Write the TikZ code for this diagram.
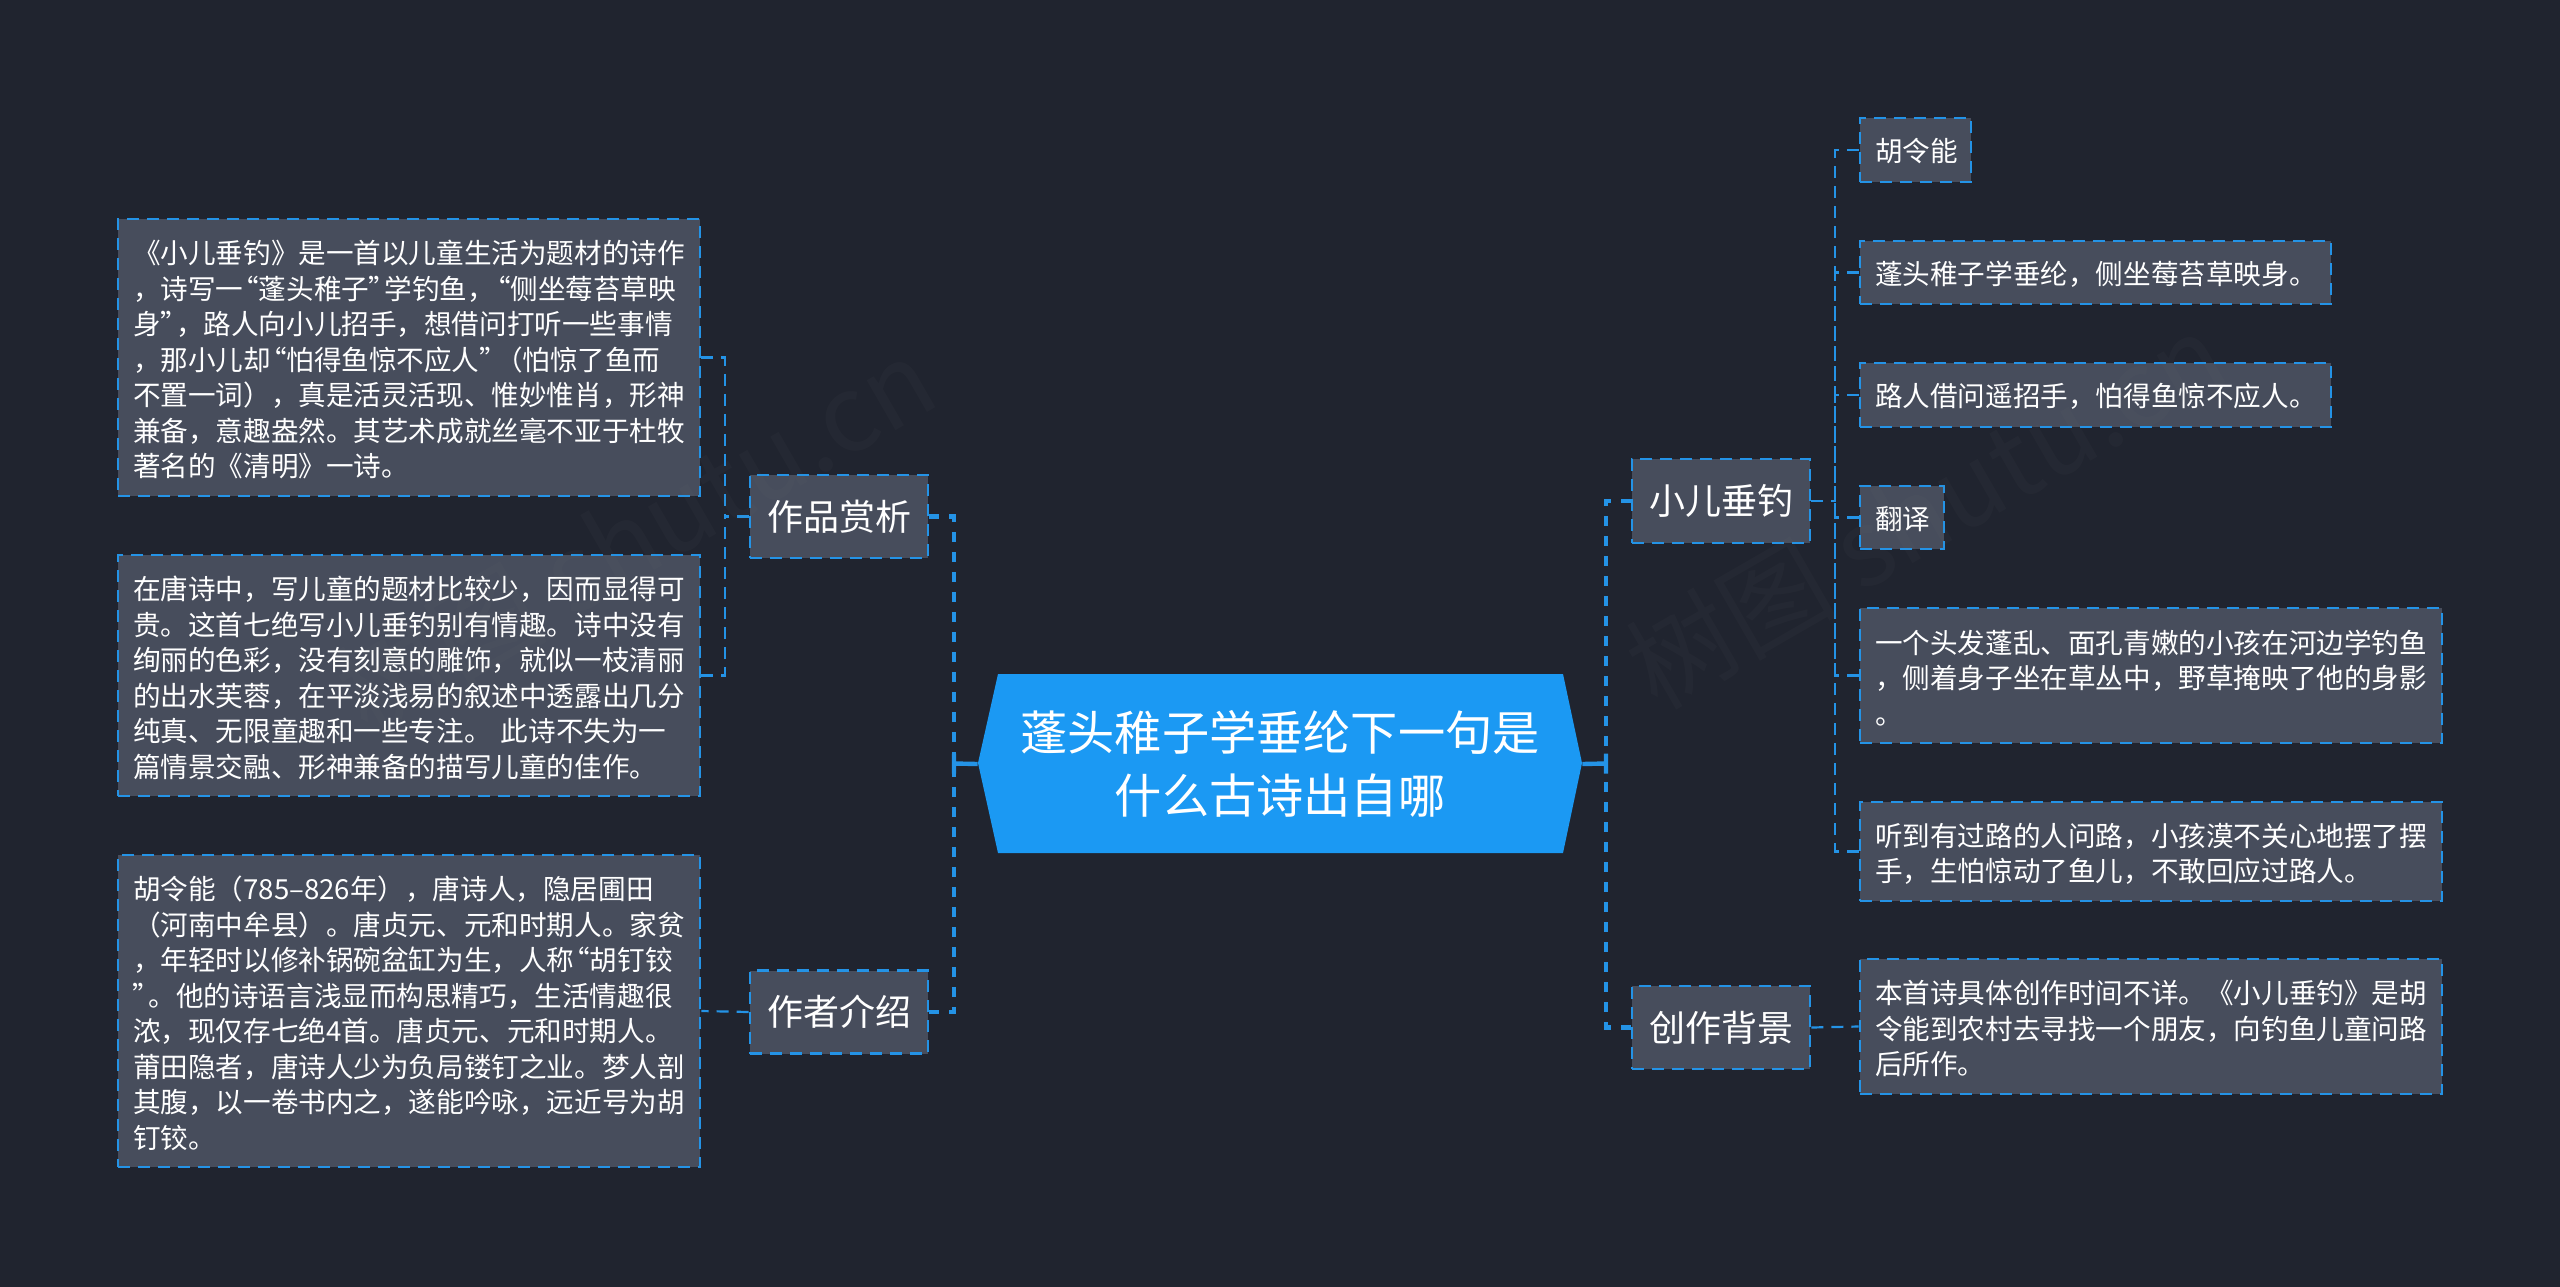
\documentclass[tikz,border=0pt]{standalone}
\usepackage{fontspec}
\setmainfont{Noto Sans CJK SC}
\newfontfamily\paltf[RawFeature=+palt]{Noto Sans CJK SC}
\newcommand\Qo{{\kern0.8pt\paltf “}}
\newcommand\Qc{{\paltf ”\kern0.8pt}}
\definecolor{bgc}{HTML}{20242F}
\definecolor{boxc}{HTML}{474D5C}
\definecolor{linec}{HTML}{2493E6}
\definecolor{rootc}{HTML}{1B99F3}
\tikzset{
  x=0.5pt,y=-0.5pt,
  leaf/.style={draw=linec,fill=boxc,text=white,line width=1.4pt,dash pattern=on 6pt off 4pt,
    rectangle,inner xsep=0pt,inner ysep=0pt,align=left,font=\fontsize{13.8}{17.75}\selectfont},
  branch/.style={draw=linec,fill=boxc,text=white,line width=1.4pt,dash pattern=on 6pt off 4pt,
    rectangle,inner sep=0pt,minimum width=89pt,align=center,font=\fontsize{18}{22}\selectfont},
  link/.style={draw=linec,line width=1.1pt,dash pattern=on 6pt off 4pt},
  mainlink/.style={draw=linec,line width=2.2pt,dash pattern=on 5pt off 5pt},
  rootlink/.style={draw=linec,line width=2.2pt},
  sitemark/.style={rotate=30,text=gray,opacity=0.05,font=\fontsize{53}{53}\selectfont},
}
\newcommand\lf[6]{% name, x0, y0, x1, y1, text
  \node[leaf,minimum width=#4*0.5pt-#2*0.5pt,minimum height=#5*0.5pt-#3*0.5pt,text width=#4*0.5pt-#2*0.5pt-15pt] (#1) at ({(#2+#4)/2},{(#3+#5)/2}) {#6\par\vspace{-2.2pt}};}
\begin{document}
\begin{tikzpicture}
\useasboundingbox (0,0) rectangle (2560,1286);
\fill[bgc] (-4,-4) rectangle (2564,1290);
% root
\fill[rootc] (998,674) -- (1563,674) -- (1582,763) -- (1563,853) -- (998,853) -- (978,763) -- cycle;
\node[text=white,align=center,inner sep=0pt,minimum width=302pt,minimum height=89.5pt,font=\fontsize{23.6}{31.5}\selectfont] (root) at (1280,764) {蓬头稚子学垂纶下一句是\\什么古诗出自哪};
% branches
\node[branch,minimum height=41.5pt] (work) at (839,516.5) {作品赏析};
\node[branch,minimum height=41.5pt] (auth) at (839,1012) {作者介绍};
\node[branch,minimum height=42pt] (poem) at (1721,501) {小儿垂钓};
\node[branch,minimum height=41.5pt] (bg) at (1721,1027.5) {创作背景};
% leaves
\lf{la}{118}{219}{700}{496}{《小儿垂钓》是一首以儿童生活为题材的诗作\\，诗写一\Qo 蓬头稚子\Qc 学钓鱼，\Qo 侧坐莓苔草映\\身\Qc，路人向小儿招手，想借问打听一些事情\\，那小儿却\Qo 怕得鱼惊不应人\Qc（怕惊了鱼而\\不置一词），真是活灵活现、惟妙惟肖，形神\\兼备，意趣盎然。其艺术成就丝毫不亚于杜牧\\著名的《清明》一诗。}
\lf{lb}{118}{555}{700}{796}{在唐诗中，写儿童的题材比较少，因而显得可\\贵。这首七绝写小儿垂钓别有情趣。诗中没有\\绚丽的色彩，没有刻意的雕饰，就似一枝清丽\\的出水芙蓉，在平淡浅易的叙述中透露出几分\\纯真、无限童趣和一些专注。 此诗不失为一\\篇情景交融、形神兼备的描写儿童的佳作。}
\lf{lc}{118}{855}{700}{1167}{胡令能（785–826年），唐诗人，隐居圃田\\（河南中牟县）。唐贞元、元和时期人。家贫\\，年轻时以修补锅碗盆缸为生，人称\Qo 胡钉铰\\\Qc。他的诗语言浅显而构思精巧，生活情趣很\\浓，现仅存七绝4首。唐贞元、元和时期人。\\莆田隐者，唐诗人少为负局镂钉之业。梦人剖\\其腹，以一卷书内之，遂能吟咏，远近号为胡\\钉铰。}
\lf{r1}{1860}{118}{1971}{182}{胡令能}
\lf{r2}{1860}{241}{2331}{304}{蓬头稚子学垂纶，侧坐莓苔草映身。}
\lf{r3}{1860}{363}{2331}{427}{路人借问遥招手，怕得鱼惊不应人。}
\lf{r4}{1860}{486}{1944}{549}{翻译}
\lf{r5}{1860}{608}{2442}{743}{一个头发蓬乱、面孔青嫩的小孩在河边学钓鱼\\，侧着身子坐在草丛中，野草掩映了他的身影\\。}
\lf{r6}{1860}{802}{2442}{901}{听到有过路的人问路，小孩漠不关心地摆了摆\\手，生怕惊动了鱼儿，不敢回应过路人。}
\lf{r7}{1860}{959}{2442}{1094}{本首诗具体创作时间不详。《小儿垂钓》是胡\\令能到农村去寻找一个朋友，向钓鱼儿童问路\\后所作。}
% junctions
\coordinate (jw) at (725,516.5);
\coordinate (jp) at (1835,501);
\coordinate (jl) at (954,763.5);
\coordinate (jr) at (1606,763.5);
% connectors
\draw[link] (work.west) -- (jw);
\draw[link] (la.east) -| (jw);
\draw[link] (lb.east) -| (jw);
\draw[link] (auth.west) -- (lc.east);
\draw[link] (poem.east) -- (jp);
\foreach \n in {r1,r2,r3,r4,r5,r6}{\draw[link] (\n.west) -| (jp);}
\draw[link] (bg.east) -- (r7.west);
\draw[mainlink] (work.east) -| (jl);
\draw[mainlink] (auth.east) -| (jl);
\draw[mainlink] (poem.west) -| (jr);
\draw[mainlink] (bg.west) -| (jr);
\draw[rootlink] (root.west) -- (jl) ++(0,-10) -- ++(0,20);
\draw[rootlink] (root.east) -- (jr) ++(0,-10) -- ++(0,20);
% faint site marks
\node[sitemark] (markL) at (635,535) {树图 shutu.cn};
\node[sitemark] (markR) at (1925,510) {树图 shutu.cn};
\end{tikzpicture}
\end{document}
